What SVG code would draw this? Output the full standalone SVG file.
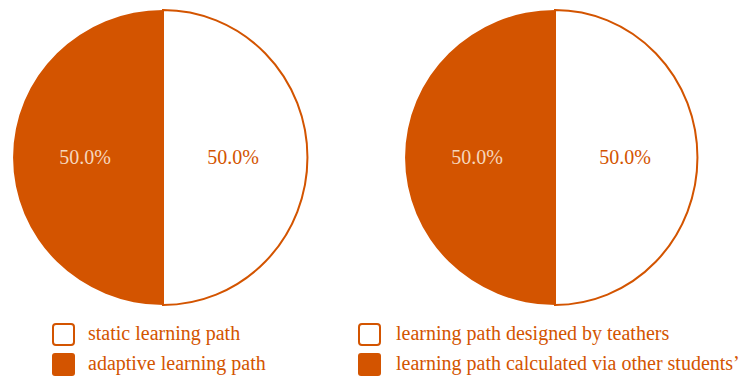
<svg xmlns="http://www.w3.org/2000/svg" width="751" height="378" viewBox="0 0 751 378">
<style>
text{font-family:'Liberation Serif','Times New Roman','DejaVu Serif',serif;font-size:20px}
.t{fill:#d35400}
.lbl{text-anchor:middle}
.filled{fill:#d35400}
.empty{fill:#ffffff;stroke:#d35400;stroke-width:2}
</style>
<rect width="751" height="378" fill="#ffffff"/>
<g id="pie1">
<path class="empty" d="M163,10 A144.5,147.5 0 0 1 163,305 Z"/>
<path class="filled" d="M163,10 A150,147.5 0 0 0 163,305 Z"/>
<text class="lbl" x="85" y="164" fill="#f6d7bd">50.0%</text>
<text class="lbl" x="233" y="164" fill="#d35400">50.0%</text>
</g>
<g id="pie2">
<path class="empty" d="M555,10 A142.5,147.5 0 0 1 555,305 Z"/>
<path class="filled" d="M555,10 A150,147.5 0 0 0 555,305 Z"/>
<text class="lbl" x="477" y="164" fill="#f6d7bd">50.0%</text>
<text class="lbl" x="625" y="164" fill="#d35400">50.0%</text>
</g>
<g id="legend1">
<rect class="empty" x="53" y="324" width="21" height="21" rx="3"/>
<text class="t" x="88" y="340">static learning path</text>
<rect class="filled" x="52" y="353" width="23" height="23" rx="3"/>
<text class="t" x="88" y="370">adaptive learning path</text>
</g>
<g id="legend2">
<rect class="empty" x="359" y="324" width="21" height="21" rx="3"/>
<text class="t" x="396" y="340">learning path designed by teathers</text>
<rect class="filled" x="358" y="353" width="23" height="23" rx="3"/>
<text class="t" x="396" y="370">learning path calculated via other students’</text>
</g>
<g id="connectors"/>
</svg>
